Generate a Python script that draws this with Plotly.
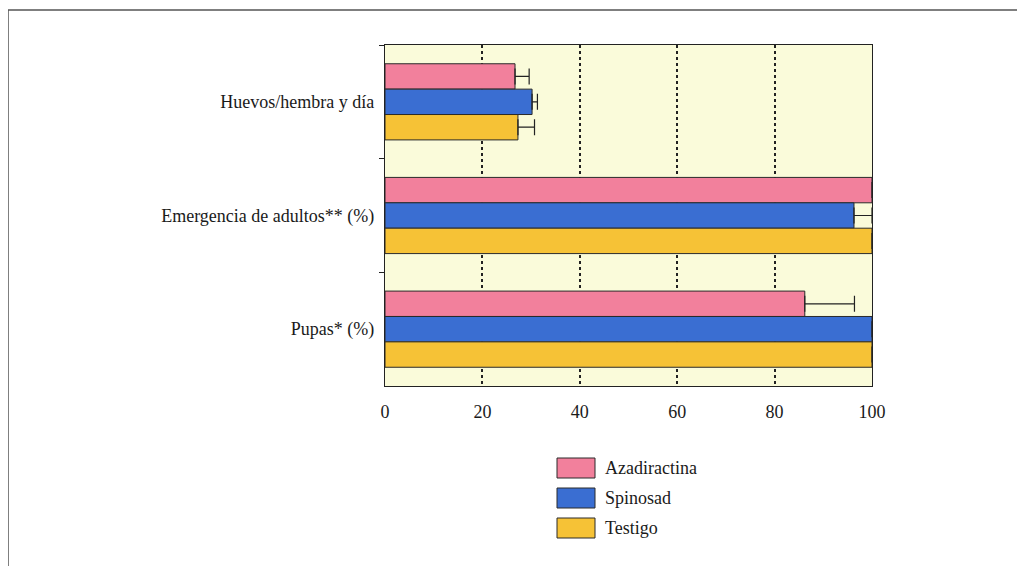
import plotly.graph_objects as go

categories = ["Huevos/hembra y día", "Emergencia de adultos** (%)", "Pupas* (%)"]
series_names = ["Azadiractina", "Spinosad", "Testigo"]
azadiractina = [26.7, 100, 86.2]
azadiractina_err = [2.9, 0, 10.2]
spinosad = [30.2, 96.3, 100]
spinosad_err = [1.1, 3.7, 0]
testigo = [27.3, 100, 100]
testigo_err = [3.4, 0, 0]
x_ticks = [0, 20, 40, 60, 80, 100]

colors = ["#F2809C", "#3A6ED2", "#F6C236"]
values = [azadiractina, spinosad, testigo]
errors = [azadiractina_err, spinosad_err, testigo_err]

OFF = 8  # page offset
W, H = 1025, 566
L, T = 385 - OFF, 45 - OFF
R = W - (872 - OFF)
B = H - (386 - OFF)
pw, ph = W - L - R, H - T - B

FONT = "Liberation Serif"
FS = 18

fig = go.Figure()
for name, v, e, c in zip(series_names, values, errors, colors):
    fig.add_trace(go.Bar(
        y=categories, x=v, name=name, orientation="h",
        marker=dict(color=c, line=dict(color="#2a2a2a", width=1)),
        error_x=dict(type="data", array=e, arrayminus=[0] * len(e), symmetric=False,
                     color="#222222", thickness=1.2, width=8),
        showlegend=False,
    ))

fig.update_layout(
    width=W, height=H,
    margin=dict(l=L, r=R, t=T, b=B),
    paper_bgcolor="white",
    plot_bgcolor="#FAFBDA",
    barmode="group",
    bargap=0.33,
    bargroupgap=0,
    font=dict(family=FONT, size=FS, color="#1a1a1a"),
)
fig.update_xaxes(
    range=[0, 100], tickvals=x_ticks, ticks="",
    showgrid=True, gridcolor="#222222", griddash="dot", gridwidth=1.5,
    zeroline=False, showline=True, mirror=True, linecolor="#222222", linewidth=1.2,
    tickfont=dict(family=FONT, size=FS), ticklabelstandoff=9,
)
fig.update_yaxes(
    autorange="reversed", type="category",
    ticks="outside", tickson="boundaries", ticklen=5, tickcolor="#222222",
    showgrid=False, showline=True, mirror=True, linecolor="#222222", linewidth=1.2,
    tickfont=dict(family=FONT, size=FS), ticklabelstandoff=6,
)

def px_to_paper_x(px):
    return (px - OFF - L) / pw

def px_to_paper_y(py):
    return (H - B - (py - OFF)) / ph

# outer frame
fig.add_shape(type="rect", xref="paper", yref="paper",
              x0=px_to_paper_x(8), x1=px_to_paper_x(1040),
              y0=px_to_paper_y(590), y1=px_to_paper_y(10),
              line=dict(color="#555555", width=1.5), fillcolor="rgba(0,0,0,0)", layer="below")

# custom legend
legend_rows = [458, 488, 518]
for name, c, top in zip(series_names, colors, legend_rows):
    fig.add_shape(type="rect", xref="paper", yref="paper",
                  x0=px_to_paper_x(557), x1=px_to_paper_x(595),
                  y0=px_to_paper_y(top + 20), y1=px_to_paper_y(top),
                  line=dict(color="#2a2a2a", width=1), fillcolor=c)
    fig.add_annotation(xref="paper", yref="paper",
                       x=px_to_paper_x(603), y=px_to_paper_y(top + 10),
                       text=name, showarrow=False, xanchor="left", yanchor="middle",
                       font=dict(family=FONT, size=FS, color="#1a1a1a"))

fig.write_html("out.html")
